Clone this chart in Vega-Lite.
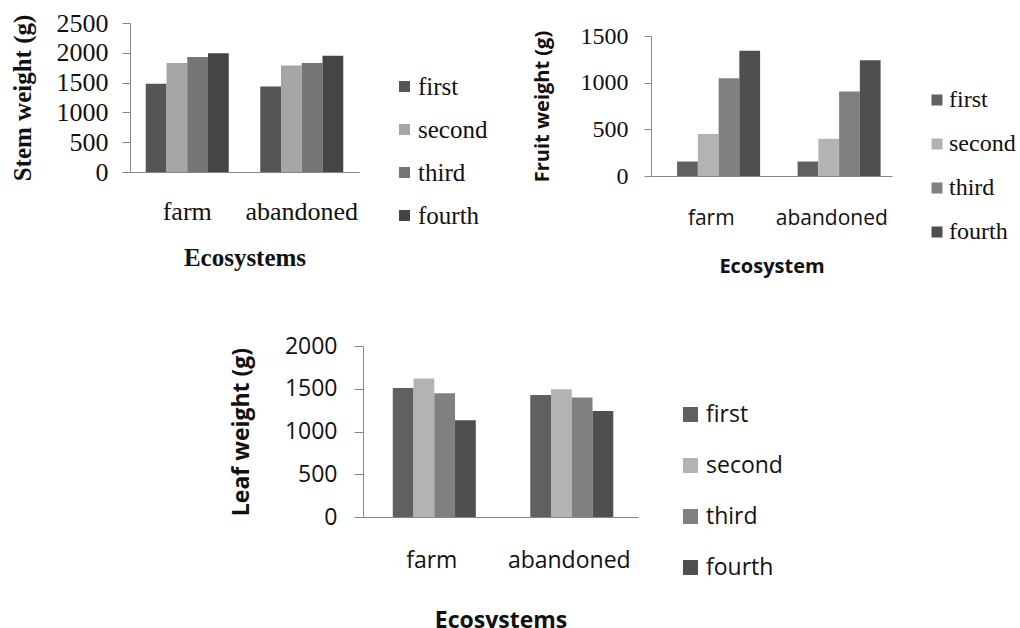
{
  "$schema": "https://vega.github.io/schema/vega-lite/v6.json",
  "background": "white",
  "padding": {"left": 10, "top": 10, "right": 0, "bottom": 0},
  "config": {
    "view": {"stroke": null},
    "axis": {"grid": false, "domainColor": "#888888", "tickColor": "#888888", "labelColor": "#111111", "titleColor": "#111111"},
    "legend": {"labelColor": "#111111"}
  },
  "datasets": {
    "stem": [
      {"ecosystem": "farm", "harvest": "first", "weight": 1480},
      {"ecosystem": "farm", "harvest": "second", "weight": 1827},
      {"ecosystem": "farm", "harvest": "third", "weight": 1928},
      {"ecosystem": "farm", "harvest": "fourth", "weight": 1992},
      {"ecosystem": "abandoned", "harvest": "first", "weight": 1435},
      {"ecosystem": "abandoned", "harvest": "second", "weight": 1788},
      {"ecosystem": "abandoned", "harvest": "third", "weight": 1827},
      {"ecosystem": "abandoned", "harvest": "fourth", "weight": 1951}
    ],
    "fruit": [
      {"ecosystem": "farm", "harvest": "first", "weight": 155},
      {"ecosystem": "farm", "harvest": "second", "weight": 450},
      {"ecosystem": "farm", "harvest": "third", "weight": 1047},
      {"ecosystem": "farm", "harvest": "fourth", "weight": 1342},
      {"ecosystem": "abandoned", "harvest": "first", "weight": 155},
      {"ecosystem": "abandoned", "harvest": "second", "weight": 399},
      {"ecosystem": "abandoned", "harvest": "third", "weight": 906},
      {"ecosystem": "abandoned", "harvest": "fourth", "weight": 1241}
    ],
    "leaf": [
      {"ecosystem": "farm", "harvest": "first", "weight": 1510},
      {"ecosystem": "farm", "harvest": "second", "weight": 1619},
      {"ecosystem": "farm", "harvest": "third", "weight": 1447},
      {"ecosystem": "farm", "harvest": "fourth", "weight": 1132},
      {"ecosystem": "abandoned", "harvest": "first", "weight": 1428},
      {"ecosystem": "abandoned", "harvest": "second", "weight": 1494},
      {"ecosystem": "abandoned", "harvest": "third", "weight": 1397},
      {"ecosystem": "abandoned", "harvest": "fourth", "weight": 1241}
    ]
  },
  "center": true,
  "spacing": 59,
  "resolve": {"scale": {"color": "independent", "x": "independent", "y": "independent"}, "legend": {"color": "independent"}},
  "vconcat": [
    {
      "spacing": 44,
      "resolve": {"scale": {"color": "independent", "x": "independent", "y": "independent"}, "legend": {"color": "independent"}},
      "hconcat": [
        {
          "data": {"name": "stem"},
          "width": 229,
          "height": 149,
          "mark": {"type": "bar"},
          "encoding": {
            "x": {"field": "ecosystem", "type": "nominal", "sort": ["farm", "abandoned"],
              "scale": {"paddingInner": 0.275, "paddingOuter": 0.1375},
              "axis": {"title": "Ecosystems", "labelAngle": 0, "ticks": false, "labelPadding": 26, "titlePadding": 21,
                "labelFont": "Liberation Serif", "labelFontSize": 26, "titleFont": "Liberation Serif", "titleFontSize": 25, "titleFontWeight": "bold"}},
            "xOffset": {"field": "harvest", "type": "nominal", "sort": ["first", "second", "third", "fourth"]},
            "y": {"field": "weight", "type": "quantitative", "scale": {"domain": [0, 2500], "nice": false},
              "axis": {"values": [0, 500, 1000, 1500, 2000, 2500], "format": "d", "title": "Stem weight (g)", "tickSize": 8, "labelPadding": 14, "titlePadding": 21,
                "labelFont": "Liberation Serif", "labelFontSize": 26, "titleFont": "Liberation Serif", "titleFontSize": 25, "titleFontWeight": "bold"}},
            "color": {"field": "harvest", "type": "nominal", "sort": ["first", "second", "third", "fourth"],
              "scale": {"domain": ["first", "second", "third", "fourth"], "range": ["#555555", "#a6a6a6", "#757575", "#454545"]},
              "legend": {"title": null, "orient": "none", "legendX": 262, "legendY": 51, "symbolType": "square", "symbolSize": 121, "symbolStrokeWidth": 0,
                "labelFont": "Liberation Serif", "labelFontSize": 25, "labelOffset": 1, "rowPadding": 17, "padding": 0}}
          }
        },
        {
          "data": {"name": "fruit"},
          "width": 241,
          "height": 153,
          "mark": {"type": "bar"},
          "encoding": {
            "x": {"field": "ecosystem", "type": "nominal", "sort": ["farm", "abandoned"],
              "scale": {"paddingInner": 0.433, "paddingOuter": 0.2165},
              "axis": {"title": "Ecosystem", "labelAngle": 0, "ticks": false, "labelPadding": 31, "titlePadding": 28,
                "labelFont": "Open Sans", "labelFontSize": 21, "titleFont": "Open Sans", "titleFontSize": 20, "titleFontWeight": "bold"}},
            "xOffset": {"field": "harvest", "type": "nominal", "sort": ["first", "second", "third", "fourth"]},
            "y": {"field": "weight", "type": "quantitative", "scale": {"domain": [0, 1500], "nice": false, "range": [153, 13]},
              "axis": {"values": [0, 500, 1000, 1500], "format": "d", "title": "Fruit weight (g)", "tickSize": 7, "labelPadding": 16, "titlePadding": 28,
                "labelFont": "Liberation Serif", "labelFontSize": 24, "titleFont": "Open Sans", "titleFontSize": 20, "titleFontWeight": "bold"}},
            "color": {"field": "harvest", "type": "nominal", "sort": ["first", "second", "third", "fourth"],
              "scale": {"domain": ["first", "second", "third", "fourth"], "range": ["#606060", "#b3b3b3", "#808080", "#4f4f4f"]},
              "legend": {"title": null, "orient": "none", "legendX": 274, "legendY": 65, "symbolType": "square", "symbolSize": 121, "symbolStrokeWidth": 0,
                "labelFont": "Liberation Serif", "labelFontSize": 24, "labelOffset": 0, "rowPadding": 20, "padding": 0}}
          }
        }
      ]
    },
    {
      "data": {"name": "leaf"},
      "width": 275,
      "height": 171,
      "mark": {"type": "bar"},
      "encoding": {
        "x": {"field": "ecosystem", "type": "nominal", "sort": ["farm", "abandoned"],
          "scale": {"paddingInner": 0.433, "paddingOuter": 0.2165},
          "axis": {"title": "Ecosystems", "labelAngle": 0, "ticks": false, "labelPadding": 32, "titlePadding": 37,
            "labelFont": "Open Sans", "labelFontSize": 23, "titleFont": "Open Sans", "titleFontSize": 23, "titleFontWeight": "bold"}},
        "xOffset": {"field": "harvest", "type": "nominal", "sort": ["first", "second", "third", "fourth"]},
        "y": {"field": "weight", "type": "quantitative", "scale": {"domain": [0, 2000], "nice": false},
          "axis": {"values": [0, 500, 1000, 1500, 2000], "format": "d", "title": "Leaf weight (g)", "tickSize": 9, "labelPadding": 17, "titlePadding": 31,
            "labelFont": "Open Sans", "labelFontSize": 23, "titleFont": "Open Sans", "titleFontSize": 23, "titleFontWeight": "bold"}},
        "color": {"field": "harvest", "type": "nominal", "sort": ["first", "second", "third", "fourth"],
          "scale": {"domain": ["first", "second", "third", "fourth"], "range": ["#606060", "#b3b3b3", "#808080", "#4f4f4f"]},
          "legend": {"title": null, "orient": "none", "legendX": 316, "legendY": 57, "symbolType": "square", "symbolSize": 225, "symbolStrokeWidth": 0,
            "labelFont": "Open Sans", "labelFontSize": 23, "labelOffset": 4, "rowPadding": 27, "padding": 0}}
      }
    }
  ]
}
